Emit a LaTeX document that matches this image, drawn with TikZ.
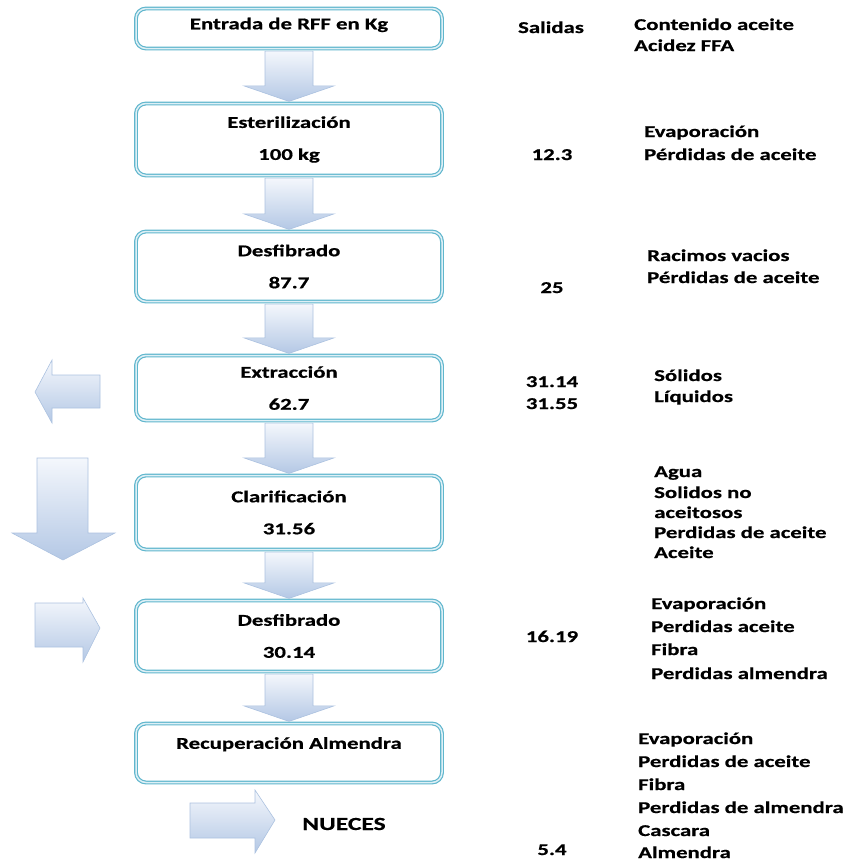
\documentclass[tikz,border=0pt]{standalone}
\usepackage{fontspec}
\setmainfont{Carlito}[FakeStretch=1.38, BoldFeatures={FakeBold=0.6}]
\usetikzlibrary{calc}
\definecolor{boxline}{RGB}{96,182,205}
\definecolor{boxgap}{RGB}{222,240,246}
\definecolor{arrtop}{RGB}{244,247,252}
\definecolor{arrbot}{RGB}{180,200,229}
\definecolor{arredge}{RGB}{172,194,224}
\newcommand\vflow[2]{%
  \path[flow] ($(#1.south)+(-24,2)$) -- ($(#2.north)+(-24,-17)$) -- ($(#2.north)+(-45,-17)$)
    -- ($(#2.north)+(0,-1.5)$) -- ($(#2.north)+(45,-17)$) -- ($(#2.north)+(24,-17)$)
    -- ($(#1.south)+(24,2)$) -- cycle;}
\begin{document}
\begin{tikzpicture}[x=1pt,y=-1pt,
  procbox/.style={draw=boxline, double=boxgap, double distance=1.5pt, line width=1.2pt,
    rounded corners=10pt, minimum width=306pt, align=center, fill=white,
    font=\bfseries\fontsize{16.5}{32}\selectfont, inner sep=0pt},
  flow/.style={draw=arredge, line width=0.6pt, top color=arrtop, bottom color=arrbot},
  lab/.style={font=\bfseries\fontsize{16.5}{19}\selectfont, inner sep=0pt, anchor=base west},
  num/.style={font=\bfseries\fontsize{16.5}{19}\selectfont, inner sep=0pt, anchor=base}]
\useasboundingbox (0,0) rectangle (848,862);

% process boxes
\node[procbox, minimum height=40pt, text depth=10pt] (b1) at (289,28.5) {Entrada de RFF en Kg};
\node[procbox, minimum height=72pt] (b2) at (289,139.5) {Esterilización\\100 kg};
\node[procbox, minimum height=70pt] (b3) at (289,266.5) {Desfibrado\\87.7};
\node[procbox, minimum height=65pt] (b4) at (289,388) {Extracción\\62.7};
\node[procbox, minimum height=74pt] (b5) at (289,512.5) {Clarificación\\31.56};
\node[procbox, minimum height=71pt] (b6) at (289,636) {Desfibrado\\30.14};
\node[procbox, minimum height=59pt, text depth=20pt] (b7) at (289,753) {Recuperación Almendra};

% flow arrows between boxes
\vflow{b1}{b2}
\vflow{b2}{b3}
\vflow{b3}{b4}
\vflow{b4}{b5}
\vflow{b5}{b6}
\vflow{b6}{b7}

% side block arrows
\path[flow] (100,375) -- (52,375) -- (52,360) -- (35,392) -- (52,423) -- (52,408) -- (100,408) -- cycle;
\path[flow] (37,458) -- (88,458) -- (88,533) -- (115,533) -- (63,560) -- (12,533) -- (37,533) -- cycle;
\path[flow] (35,603) -- (83,603) -- (83,598) -- (100,628) -- (83,662) -- (83,647) -- (35,647) -- cycle;
\path[flow] (190,803) -- (255,803) -- (255,790) -- (275,820) -- (255,853) -- (255,838) -- (190,838) -- cycle;
\node[num, font=\bfseries\fontsize{18.5}{20}\selectfont] (nueces) at (344,830) {NUECES};

% outputs column
\node[num] (sal) at (551,33) {Salidas};
\node[lab] (c1) at (634,30) {Contenido aceite};
\node[lab] (c2) at (634,51) {Acidez FFA};

\node[num] (n1) at (552,160) {12.3};
\node[lab] (e1) at (644,137) {Evaporación};
\node[lab] (e2) at (644,160) {Pérdidas de aceite};

\node[num] (n2) at (552,293) {25};
\node[lab] (r1) at (647,261) {Racimos vacios};
\node[lab] (r2) at (647,283) {Pérdidas de aceite};

\node[num] (n3) at (552,387) {31.14};
\node[num] (n4) at (552,409) {31.55};
\node[lab] (s1) at (654,381) {Sólidos};
\node[lab] (s2) at (654,402) {Líquidos};

\node[lab] (a1) at (654,477) {Agua};
\node[lab] (a2) at (654,498) {Solidos no};
\node[lab] (a3) at (654,518) {aceitosos};
\node[lab] (a4) at (654,538) {Perdidas de aceite};
\node[lab] (a5) at (654,558) {Aceite};

\node[num] (n5) at (552,642) {16.19};
\node[lab] (d1) at (651,609) {Evaporación};
\node[lab] (d2) at (651,632) {Perdidas aceite};
\node[lab] (d3) at (651,655) {Fibra};
\node[lab] (d4) at (651,679) {Perdidas almendra};

\node[num] (n6) at (552,855) {5.4};
\node[lab] (f1) at (638,744) {Evaporación};
\node[lab] (f2) at (638,767) {Perdidas de aceite};
\node[lab] (f3) at (638,790) {Fibra};
\node[lab] (f4) at (638,813) {Perdidas de almendra};
\node[lab] (f5) at (638,836) {Cascara};
\node[lab] (f6) at (638,858) {Almendra};
\end{tikzpicture}
\end{document}
